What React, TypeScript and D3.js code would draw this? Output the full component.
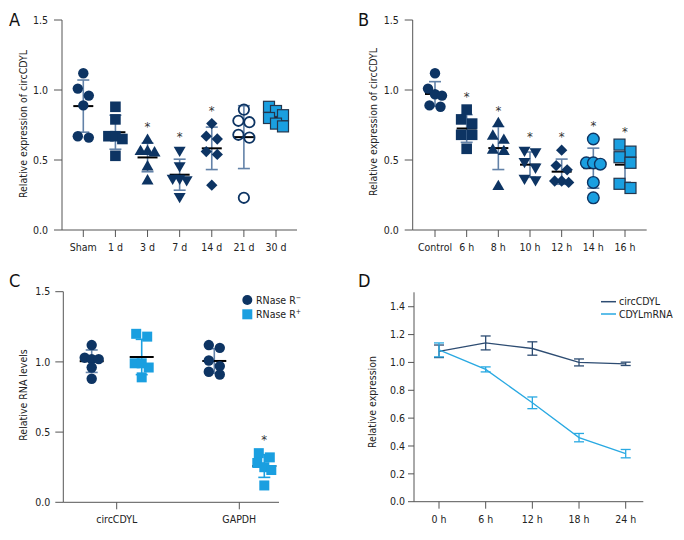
import React from 'react';
import * as d3 from 'd3';

const FONT = "'Liberation Sans Narrow','Arial Narrow','DejaVu Sans Condensed',sans-serif";
const NAVY = '#0d3463';
const LIGHT = '#1a9fe0';
const BAR = '#6382a8';
const AXIS = '#555';
const TXT = '#222';

// ---------- Panel A ----------
const aCategories = ['Sham', '1 d', '3 d', '7 d', '14 d', '21 d', '30 d'];
const aSham = [1.12, 1.01, 0.96, 0.89, 0.67, 0.66];
const a1d = [0.88, 0.79, 0.67, 0.67, 0.65, 0.53];
const a3d = [0.64, 0.56, 0.56, 0.55, 0.45, 0.35];
const a7d = [0.57, 0.46, 0.37, 0.37, 0.36, 0.24];
const a14d = [0.76, 0.67, 0.65, 0.56, 0.54, 0.32];
const a21d = [0.86, 0.78, 0.77, 0.68, 0.66, 0.23];
const a30d = [0.88, 0.85, 0.82, 0.80, 0.76, 0.74];
const aSeries = [aSham, a1d, a3d, a7d, a14d, a21d, a30d];
const aKinds = ['circle', 'square', 'triangle', 'triangleDown', 'diamond', 'circleOpen', 'squareLight'];
const aStars = [false, false, true, true, true, false, false];

// ---------- Panel B ----------
const bCategories = ['Control', '6 h', '8 h', '10 h', '12 h', '14 h', '16 h'];
const bControl = [1.12, 1.01, 0.97, 0.96, 0.89, 0.88];
const b6h = [0.86, 0.79, 0.76, 0.68, 0.68, 0.58];
const b8h = [0.76, 0.67, 0.64, 0.57, 0.56, 0.31];
const b10h = [0.57, 0.56, 0.49, 0.45, 0.37, 0.36];
const b12h = [0.57, 0.46, 0.43, 0.35, 0.35, 0.34];
const b14h = [0.65, 0.48, 0.48, 0.47, 0.34, 0.23];
const b16h = [0.61, 0.56, 0.52, 0.48, 0.33, 0.30];
const bSeries = [bControl, b6h, b8h, b10h, b12h, b14h, b16h];
const bKinds = ['circle', 'square', 'triangle', 'triangleDown', 'diamond', 'circleLight', 'squareLight'];
const bStars = [false, true, true, true, true, true, true];

// ---------- Panel C ----------
const cCategories = ['circCDYL', 'GAPDH'];
const cGroups = ['RNase R−', 'RNase R+'];
const cCircMinus = [1.12, 1.03, 1.02, 1.02, 0.96, 0.88];
const cCircPlus = [1.20, 1.18, 0.99, 0.99, 0.96, 0.89];
const cGapdhMinus = [1.12, 1.10, 1.01, 0.97, 0.93, 0.91];
const cGapdhPlus = [0.35, 0.32, 0.28, 0.25, 0.23, 0.12];
const cStars = [[false, false], [false, true]];

// ---------- Panel D ----------
const dHours = ['0 h', '6 h', '12 h', '18 h', '24 h'];
const dCirc = [1.08, 1.14, 1.10, 1.00, 0.99];
const dCircErr = [0.045, 0.05, 0.048, 0.025, 0.012];
const dMrna = [1.09, 0.95, 0.71, 0.46, 0.345];
const dMrnaErr = [0.05, 0.018, 0.042, 0.03, 0.03];
const dSeriesNames = ['circCDYL', 'CDYLmRNA'];

const yTicks15 = [0, 0.5, 1.0, 1.5];
const dTicks = [0, 0.2, 0.4, 0.6, 0.8, 1.0, 1.2, 1.4];

function swarm(values: number[], y: (v: number) => number, binH = 9) {
  const idx = values.map((_, i) => i).sort((a, b) => values[b] - values[a]);
  const off = new Array(values.length).fill(0);
  let bin: number[] = [];
  let start: number | null = null;
  const flush = () => {
    const k = bin.length;
    const sp = k === 2 ? 11 : 7;
    bin.forEach((id, j) => (off[id] = (j - (k - 1) / 2) * sp));
  };
  for (const i of idx) {
    const py = y(values[i]);
    if (start === null || py - start > binH) {
      if (bin.length) flush();
      bin = [];
      start = py;
    }
    bin.push(i);
  }
  if (bin.length) flush();
  return off;
}

const triPath = d3.symbol(d3.symbolTriangle, 62)()!;
const sqPath = d3.symbol(d3.symbolSquare, 64)()!;

function Marker({ kind, x, y }: { kind: string; x: number; y: number }) {
  switch (kind) {
    case 'circle':
      return <circle cx={x} cy={y} r={5.2} fill={NAVY} />;
    case 'circleLight':
      return <circle cx={x} cy={y} r={5.8} fill={LIGHT} stroke={NAVY} strokeWidth={1.4} />;
    case 'circleOpen':
      return <circle cx={x} cy={y} r={5.2} fill="none" stroke={NAVY} strokeWidth={1.8} />;
    case 'square':
      return <rect x={x - 5.3} y={y - 5.3} width={10.6} height={10.6} fill={NAVY} />;
    case 'squareLight':
      return <rect x={x - 5.5} y={y - 5.5} width={11} height={11} fill={LIGHT} stroke="#24364d" strokeWidth={1.2} />;
    case 'squarePlain':
      return <rect x={x - 5} y={y - 5} width={10} height={10} fill={LIGHT} />;
    case 'triangle':
      return <path d={triPath} transform={`translate(${x},${y})`} fill={NAVY} />;
    case 'triangleDown':
      return <path d={triPath} transform={`translate(${x},${y}) rotate(180)`} fill={NAVY} />;
    case 'diamond':
      return <path d={sqPath} transform={`translate(${x},${y}) rotate(45)`} fill={NAVY} />;
    default:
      return null;
  }
}

type Col = { x: number; values: number[]; kind: string; bar: string; star: boolean; meanW: number };

function Columns({ cols, y }: { cols: Col[]; y: d3.ScaleLinear<number, number> }) {
  return (
    <g>
      {cols.map((c, i) => {
        const m = d3.mean(c.values)!;
        const sd = d3.deviation(c.values)!;
        const off = swarm(c.values, y);
        const top = y(m + sd);
        const bot = y(m - sd);
        const maxV = d3.max(c.values)!;
        return (
          <g key={i}>
            <line x1={c.x} x2={c.x} y1={top} y2={bot} stroke={c.bar} strokeWidth={1.6} />
            <line x1={c.x - 6} x2={c.x + 6} y1={top} y2={top} stroke={c.bar} strokeWidth={1.6} />
            <line x1={c.x - 6} x2={c.x + 6} y1={bot} y2={bot} stroke={c.bar} strokeWidth={1.6} />
            <line x1={c.x - c.meanW / 2} x2={c.x + c.meanW / 2} y1={y(m)} y2={y(m)} stroke="#000" strokeWidth={2} />
            {c.values.map((v, j) => (
              <Marker key={j} kind={c.kind} x={c.x + off[j]} y={y(v)} />
            ))}
            {c.star && (
              <text x={c.x} y={Math.min(y(maxV), top) - 9} textAnchor="middle" fontSize={13} fill="#333" fontFamily={FONT}>
                *
              </text>
            )}
          </g>
        );
      })}
    </g>
  );
}

function YAxis({ x, y, ticks, fmt, tick = 7, pad = 6, top }: any) {
  return (
    <g>
      <line x1={x} x2={x} y1={top} y2={y(0)} stroke={AXIS} strokeWidth={1} />
      {ticks.map((t: number) => (
        <g key={t}>
          <line x1={x - tick} x2={x} y1={y(t)} y2={y(t)} stroke={AXIS} strokeWidth={1} />
          <text x={x - tick - pad} y={y(t)} dy="0.35em" textAnchor="end" fontSize={10.5} fill={TXT} fontFamily={FONT}>
            {fmt(t)}
          </text>
        </g>
      ))}
    </g>
  );
}

function XAxis({ x0, x1, y0, cats, pos, labelY }: any) {
  return (
    <g>
      <line x1={x0} x2={x1} y1={y0} y2={y0} stroke={AXIS} strokeWidth={1} />
      {cats.map((c: string, i: number) => (
        <g key={c}>
          <line x1={pos(c, i)} x2={pos(c, i)} y1={y0} y2={y0 + 7} stroke={AXIS} strokeWidth={1} />
          <text x={pos(c, i)} y={labelY} textAnchor="middle" fontSize={10.5} fill={TXT} fontFamily={FONT}>
            {c}
          </text>
        </g>
      ))}
    </g>
  );
}

function YLabel({ x, y, text }: any) {
  return (
    <text transform={`translate(${x},${y}) rotate(-90)`} textAnchor="middle" dy="0.35em" fontSize={10.5} fill={TXT} fontFamily={FONT}>
      {text}
    </text>
  );
}

function PanelLetter({ x, y, t }: any) {
  return (
    <text x={x} y={y} fontSize={18} fill="#111" fontFamily={FONT}>
      {t}
    </text>
  );
}

const fmt1 = d3.format('.1f');

export default function App() {
  // Panel A
  const yA = d3.scaleLinear().domain([0, 1.5]).range([230, 20]);
  const xA = d3.scalePoint<string>().domain(aCategories).range([83.3, 276]);
  const colsA: Col[] = aCategories.map((c, i) => ({
    x: xA(c)!, values: aSeries[i], kind: aKinds[i], bar: BAR, star: aStars[i], meanW: 20,
  }));

  // Panel B
  const yB = d3.scaleLinear().domain([0, 1.5]).range([230, 20]);
  const xB = d3.scalePoint<string>().domain(bCategories).range([435, 625]);
  const colsB: Col[] = bCategories.map((c, i) => ({
    x: xB(c)!, values: bSeries[i], kind: bKinds[i], bar: BAR, star: bStars[i], meanW: 20,
  }));

  // Panel C
  const yC = d3.scaleLinear().domain([0, 1.5]).range([502.3, 291.7]);
  const xC = d3.scalePoint<string>().domain(cCategories).range([116.7, 239.3]);
  const xCsub = d3.scalePoint<string>().domain(cGroups).range([-25, 25]);
  const cData = [[cCircMinus, cCircPlus], [cGapdhMinus, cGapdhPlus]];
  const colsC: Col[] = [];
  cCategories.forEach((c, i) => {
    cGroups.forEach((g, j) => {
      colsC.push({
        x: xC(c)! + xCsub(g)!,
        values: cData[i][j],
        kind: j === 0 ? 'circle' : 'squarePlain',
        bar: j === 0 ? BAR : LIGHT,
        star: cStars[i][j],
        meanW: 24,
      });
    });
  });

  // Panel D
  const yD = d3.scaleLinear().domain([0, 1.5]).range([501.7, 292.8]);
  const xD = d3.scalePoint<string>().domain(dHours).range([439, 625.7]);
  const dColors = ['#2d4c72', '#29a9e2'];
  const dVals = [dCirc, dMrna];
  const dErrs = [dCircErr, dMrnaErr];
  const line = d3
    .line<number>()
    .x((_, i) => xD(dHours[i])!)
    .y((v) => yD(v));

  return (
    <svg width={684} height={540} style={{ position: 'absolute', left: 0, top: 0, background: '#fff' }}>
      <rect width={684} height={540} fill="#fff" />

      {/* Panel A */}
      <PanelLetter x={9} y={26} t="A" />
      <YAxis x={62} y={yA} ticks={yTicks15} fmt={fmt1} tick={8} pad={6} top={20} />
      <XAxis x0={62} x1={297} y0={230} cats={aCategories} pos={(c: string) => xA(c)} labelY={250.5} />
      <YLabel x={23} y={124} text="Relative expression of circCDYL" />
      <Columns cols={colsA} y={yA} />

      {/* Panel B */}
      <PanelLetter x={358} y={26} t="B" />
      <YAxis x={412.7} y={yB} ticks={yTicks15} fmt={fmt1} tick={8} pad={6} top={20} />
      <XAxis x0={412.7} x1={646.7} y0={230} cats={bCategories} pos={(c: string) => xB(c)} labelY={250.5} />
      <YLabel x={373.5} y={122} text="Relative expression of circCDYL" />
      <Columns cols={colsB} y={yB} />

      {/* Panel C */}
      <PanelLetter x={9} y={287} t="C" />
      <YAxis x={63.3} y={yC} ticks={yTicks15} fmt={fmt1} tick={8} pad={5} top={291.7} />
      <XAxis x0={63.3} x1={279} y0={502.3} cats={cCategories} pos={(c: string) => xC(c)} labelY={523} />
      <YLabel x={23} y={395} text="Relative RNA levels" />
      <Columns cols={colsC} y={yC} />
      <g fontFamily={FONT} fontSize={10.5} fill={TXT}>
        <circle cx={247.3} cy={300} r={5} fill={NAVY} />
        <text x={256} y={300} dy="0.35em">
          RNase R<tspan dy={-4} fontSize={7}>−</tspan>
        </text>
        <rect x={242.3} y={309.3} width={10} height={10} fill={LIGHT} />
        <text x={256} y={314.3} dy="0.35em">
          RNase R<tspan dy={-4} fontSize={7}>+</tspan>
        </text>
      </g>

      {/* Panel D */}
      <PanelLetter x={358} y={287} t="D" />
      <YAxis x={414} y={yD} ticks={dTicks} fmt={fmt1} tick={6} pad={3} top={292.3} />
      <XAxis x0={414} x1={643.3} y0={501.7} cats={dHours} pos={(c: string) => xD(c)} labelY={523} />
      <YLabel x={372} y={402} text="Relative expression" />
      {dVals.map((vals, s) => (
        <g key={s}>
          <path d={line(vals)!} fill="none" stroke={dColors[s]} strokeWidth={1.3} />
          {vals.map((v, i) => {
            const x = xD(dHours[i])!;
            const e = dErrs[s][i];
            return (
              <g key={i} stroke={dColors[s]} strokeWidth={1.3}>
                <line x1={x} x2={x} y1={yD(v + e)} y2={yD(v - e)} />
                <line x1={x - 5} x2={x + 5} y1={yD(v + e)} y2={yD(v + e)} />
                <line x1={x - 5} x2={x + 5} y1={yD(v - e)} y2={yD(v - e)} />
              </g>
            );
          })}
        </g>
      ))}
      {dSeriesNames.map((n, s) => (
        <g key={n}>
          <line x1={601} x2={616} y1={301.7 + s * 12.3} y2={301.7 + s * 12.3} stroke={dColors[s]} strokeWidth={1.5} />
          <text x={619} y={301.7 + s * 12.3} dy="0.35em" fontSize={10.5} fill={TXT} fontFamily={FONT}>
            {n}
          </text>
        </g>
      ))}
    </svg>
  );
}
